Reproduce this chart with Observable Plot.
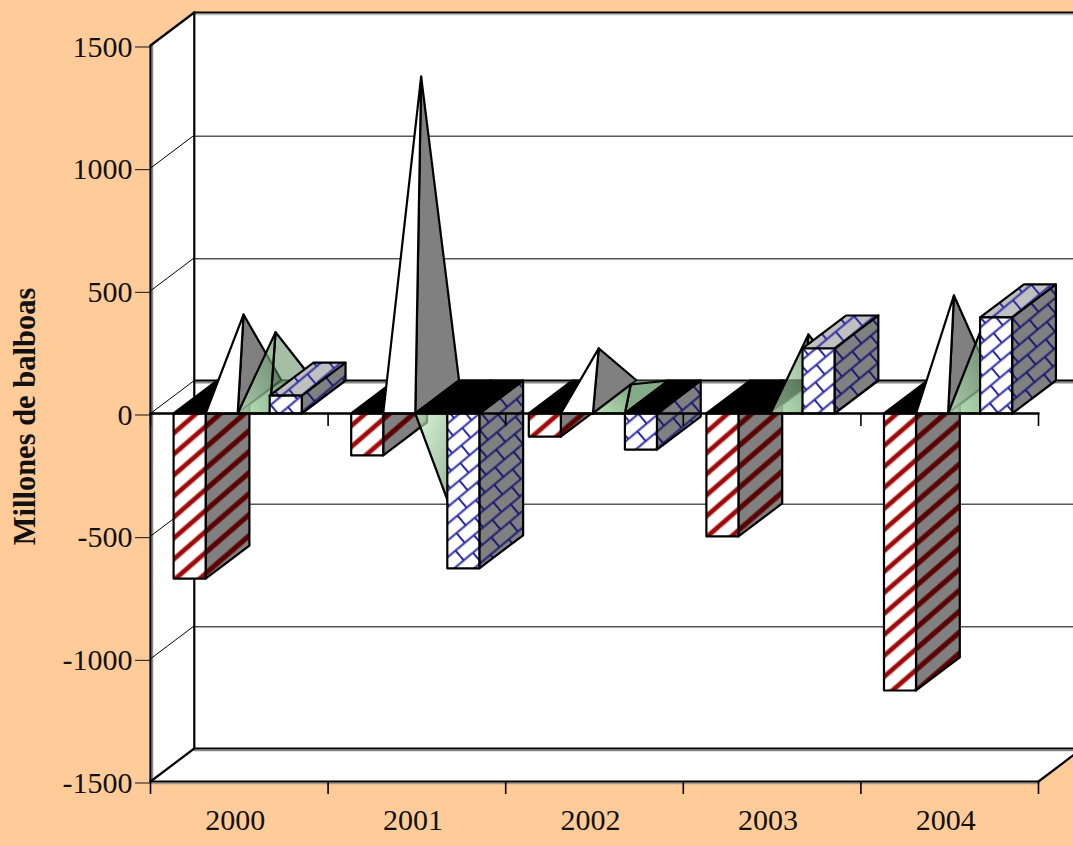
<!DOCTYPE html>
<html>
<head>
<meta charset="utf-8">
<script src="https://cdn.jsdelivr.net/npm/d3@7"></script>
<script src="https://cdn.jsdelivr.net/npm/@observablehq/plot@0.6"></script>
<style>
html,body{margin:0;padding:0;background:#FFCC99;overflow:hidden}
svg{display:block}
</style>
</head>
<body>
<div id="chart"></div>
<script>
// ---- data (millones de balboas) ----
const years = ["2000", "2001", "2002", "2003", "2004"];
const redBars = [-673, -171, -94, -501, -1129];
const pyramids = [336, 1306, 198, 0, 414];
const greenPyramids = [264, -483, 51, 255, 325];
const blueBars = [73, -631, -147, 265, 392];
const yTicks = [-1500, -1000, -500, 0, 500, 1000, 1500];
const yTitle = "Millones de balboas";

// ---- oblique projection expressed in data units ----
const depthX = 0.2465;   // category units
const depthY = 134.5;    // value units
const slotStart = 0.13, slotWidth = 0.1804;
const pt = (c, v, d = 0) => ({x: c + d * depthX, y: v + d * depthY});
const yMin = -1500, yMax = 1500, nCat = years.length;

const face = (pts, fill, o = {}) =>
  Plot.line([...pts, pts[0]], {x: "x", y: "y", fill, stroke: "black", strokeWidth: 2.2, curve: "linear", ...o});
const seg = (a, b, strokeWidth, o = {}) =>
  Plot.line([a, b], {x: "x", y: "y", stroke: "black", strokeWidth, curve: "linear", ...o});

function box(i, slot, v, front, side, top) {
  const a = i + slotStart + slot * slotWidth, b = a + slotWidth;
  const ceil = Math.max(v, 0), low = Math.min(v, 0);
  return [
    face([pt(b, ceil), pt(b, ceil, 1), pt(b, low, 1), pt(b, low)], side),
    face([pt(a, ceil), pt(b, ceil), pt(b, ceil, 1), pt(a, ceil, 1)], v < 0 ? "black" : top),
    face([pt(a, ceil), pt(b, ceil), pt(b, low), pt(a, low)], front)
  ];
}
function pyramid(i, slot, v, front, side, base, o = {}, baseO = {}, sideO = {}) {
  const a = i + slotStart + slot * slotWidth, b = a + slotWidth;
  const apex = pt((a + b) / 2, v, 0.5);
  return [
    face([pt(a, 0), pt(b, 0), pt(b, 0, 1), pt(a, 0, 1)], v <= 0 ? "black" : base, v <= 0 ? {} : {stroke: "none", ...baseO}),
    ...(v === 0 ? [] : [
      face([pt(b, 0), pt(b, 0, 1), apex], side, sideO),
      face([pt(a, 0), pt(b, 0), apex], front, o)
    ])
  ];
}

// ---- hatch patterns and gradients ----
function stripes(id, bg, core, halo) {
  return `<pattern id="${id}" patternUnits="userSpaceOnUse" width="10" height="15.85" patternTransform="translate(2 4) rotate(-41)">
    <rect width="10" height="15.85" fill="${bg}"/>
    <rect y="5" width="10" height="5.85" fill="${halo}"/>
    <rect y="6" width="10" height="3.85" fill="${core}"/>
  </pattern>`;
}
function bricks(id, bg, ink) {
  return `<pattern id="${id}" patternUnits="userSpaceOnUse" width="24" height="25.6" patternTransform="translate(3 2) rotate(-40)">
    <rect width="24" height="25.6" fill="${bg}"/>
    <path d="M0,6.4 H24 M0,19.2 H24 M6,6.4 V19.2 M18,19.2 V25.6 M18,0 V6.4" stroke="${ink}" stroke-width="2" fill="none"/>
  </pattern>`;
}
const defs = () => {
  const g = d3.create("svg:defs");
  g.html(
    stripes("redWhite", "#ffffff", "#a00808", "#d89090") + stripes("redGrey", "#808080", "#5a0000", "#6c3030") +
    bricks("blueWhite", "#ffffff", "#2a2aa8") + bricks("blueGrey", "#808080", "#1c1c70") + bricks("blueLight", "#c0c0c0", "#3030a0") + `
    <linearGradient id="greenUp" x1="0" y1="1" x2="1" y2="0">
      <stop offset="0" stop-color="#bfe8bf"/><stop offset="1" stop-color="#5f9060"/>
    </linearGradient>
    <linearGradient id="greenDown" x1="0" y1="0" x2="1" y2="1">
      <stop offset="0" stop-color="#c4f4c4"/><stop offset="1" stop-color="#5f8860"/>
    </linearGradient>`);
  return g.node();
};

// ---- the chart frame ----
const frame = [
  // walls and floor
  face([pt(0, yMin, 1), pt(nCat, yMin, 1), pt(nCat, yMax, 1), pt(0, yMax, 1)], "white", {stroke: "none"}),
  face([pt(0, yMin), pt(0, yMin, 1), pt(0, yMax, 1), pt(0, yMax)], "white", {stroke: "none"}),
  face([pt(0, yMin), pt(nCat, yMin), pt(nCat, yMin, 1), pt(0, yMin, 1)], "white", {stroke: "none"}),
  // grey shadows beside the heavy lines
  seg(pt(0, yMin), pt(nCat, yMin), 1.5, {stroke: "#999", dy: 2}),
  seg(pt(0, yMin), pt(0, yMax), 1.5, {stroke: "#888", dx: 2}),
  seg(pt(0, yMin, 1), pt(nCat, yMin, 1), 1.5, {stroke: "#888", dy: 2}),
  seg(pt(0, 0, 1), pt(nCat, 0, 1), 2, {stroke: "#888", dy: 2}),
  seg(pt(0, yMax, 1), pt(nCat, yMax, 1), 1.5, {stroke: "#bbb", dy: 2}),
  // thin gridlines on back wall and side wall
  ...yTicks.filter(t => Math.abs(t) !== 1500 && t !== 0).map(t => seg(pt(0, t, 1), pt(nCat, t, 1), 1, {dy: 1})),
  ...yTicks.filter(t => Math.abs(t) !== 1500).map(t => seg(pt(0, t), pt(0, t, 1), 1)),
  // heavy frame lines
  seg(pt(0, yMin, 1), pt(nCat, yMin, 1), 2.2),
  seg(pt(0, yMax, 1), pt(nCat, yMax, 1), 2.2),
  seg(pt(0, 0, 1), pt(nCat, 0, 1), 2.2),
  seg(pt(0, yMin, 1), pt(0, yMax, 1), 2.2),
  seg(pt(0, yMin), pt(0, yMax), 2.2),
  seg(pt(0, yMax), pt(0, yMax, 1), 2.2),
  seg(pt(0, yMin), pt(0, yMin, 1), 2.2),
  seg(pt(0, yMin), pt(nCat, yMin), 2.2),
  seg(pt(nCat, yMin), pt(nCat, yMin, 1), 2.2)
];

// ---- series, drawn left to right so that nearer bars cover farther ones ----
const series = years.flatMap((_, i) => [
  ...box(i, 0, redBars[i], "url(#redWhite)", "url(#redGrey)", "black"),
  ...pyramid(i, 1, pyramids[i], "white", "#808080", "none"),
  ...pyramid(i, 2, greenPyramids[i],
    greenPyramids[i] < 0 ? "url(#greenDown)" : "url(#greenUp)", "#5a8a5c", "#7fae80",
    {fillOpacity: 0.68}, {fillOpacity: 0.55}, {fillOpacity: 0.55}),
  ...box(i, 3, blueBars[i], "url(#blueWhite)", "url(#blueGrey)", "url(#blueLight)")
]);

const catEdges = d3.range(nCat + 1);
const chart = Plot.plot({
  width: 1073,
  height: 846,
  marginLeft: 150,
  marginRight: 35,
  marginTop: 45,
  marginBottom: 65,
  style: {background: "#FFCC99", fontFamily: "'Liberation Serif', serif", color: "#111", overflow: "hidden"},
  x: {domain: [0, nCat], axis: null},
  y: {domain: [yMin, yMax], axis: null},
  marks: [
    defs,
    ...frame,
    ...series,
    // front edge of the zero plane and its ticks, over the bars
    seg(pt(0, 0), pt(nCat, 0), 2.4),
    Plot.ruleX(catEdges, {y1: 0, y2: -53, stroke: "black", strokeWidth: 1.6}),
    Plot.ruleX(catEdges, {y1: yMin, y2: yMin - 53, stroke: "black", strokeWidth: 1.6}),
    Plot.axisY({ticks: yTicks, tickSize: 15, tickPadding: 3, fontSize: 30, tickFormat: d => String(d), label: null, dy: 1.5}),
    Plot.axisX({ticks: years.map((_, i) => i + 0.5), tickSize: 0, tickPadding: 27, fontSize: 30, dx: -4,
      tickFormat: d => years[d - 0.5], label: null}),
    Plot.text([yTitle], {frameAnchor: "left", textAnchor: "middle", rotate: -90, dx: -125, dy: 3, fontSize: 30.5, fontWeight: "bold", fill: "#111"})
  ]
});
document.getElementById("chart").appendChild(chart);
</script>
</body>
</html>
